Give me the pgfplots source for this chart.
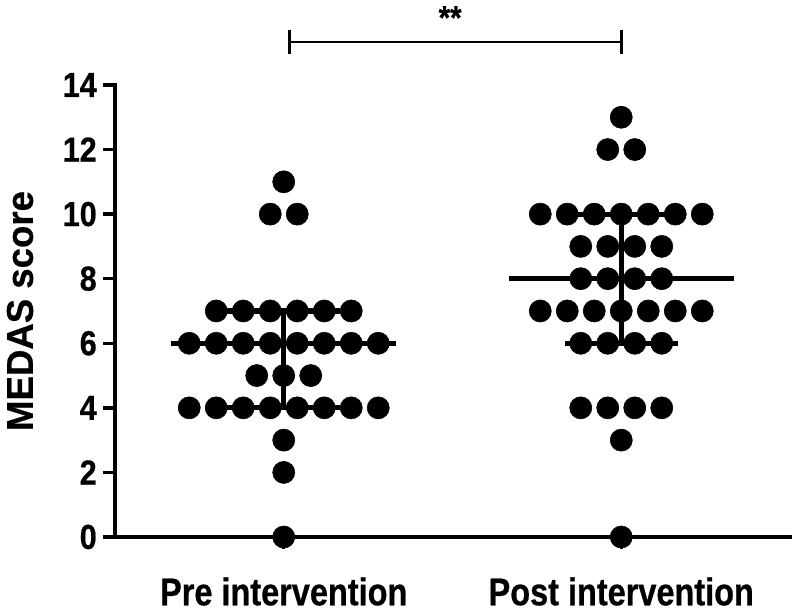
\documentclass[border=0pt]{standalone}
\usepackage{fontspec}
\setmainfont{Liberation Sans}
\newfontfamily\tickfont{Liberation Sans Bold}[FakeStretch=0.88, FakeBold=0.6]
\newfontfamily\catfont{Liberation Sans Bold}[FakeStretch=0.84, FakeBold=0.6]
\newfontfamily\labfont{Liberation Sans Bold}[FakeStretch=0.98, FakeBold=0.6]
\usepackage{pgfplots}
\pgfplotsset{compat=1.18}

% Pre / post MEDAS scores, one row per dot (x = group position + horizontal spread)
\begin{document}
\begin{tikzpicture}
\begin{axis}[
  width=506.25pt, height=339pt, scale only axis,
  xmin=0.5, xmax=2.5, ymin=0, ymax=14,
  axis x line=bottom, axis y line=left,
  axis line style={-, line width=2.6pt, line cap=rect},
  tick align=outside,
  major tick length=9pt,
  tick style={line width=2.6pt, black},
  ytick={0,2,...,14},
  xtick={1,2},
  xticklabels={Pre intervention, Post intervention},
  /pgf/number format/assume math mode=true,
  yticklabel style={font=\tickfont\fontsize{26}{30}\selectfont, inner sep=0pt, xshift=-4.5pt},
  xticklabel style={font=\catfont\fontsize{29}{32}\selectfont, inner sep=0pt, yshift=-21pt},
  ylabel={MEDAS score},
  ylabel style={font=\labfont\fontsize{28}{32}\selectfont, at={(axis description cs:-0.1407,0.5)}, anchor=center},
  clip=false,
]
% medians and interquartile ranges
\addplot[black, line width=3.8pt] coordinates {(0.6667,6) (1.3333,6)};
\addplot[black, line width=3.8pt] coordinates {(0.8333,4) (1.1667,4)};
\addplot[black, line width=3.8pt] coordinates {(0.8333,7) (1.1667,7)};
\addplot[black, line width=3.8pt] coordinates {(1,4) (1,7)};
\addplot[black, line width=3.8pt] coordinates {(1.6667,8) (2.3333,8)};
\addplot[black, line width=3.8pt] coordinates {(1.8333,6) (2.1667,6)};
\addplot[black, line width=3.8pt] coordinates {(1.8333,10) (2.1667,10)};
\addplot[black, line width=3.8pt] coordinates {(2,6) (2,10)};

% pre intervention
\addplot[only marks, mark=*, mark size=8.3pt, black] coordinates {
  (1,11)
  (0.96,10) (1.04,10)
  (0.80,7) (0.88,7) (0.96,7) (1.04,7) (1.12,7) (1.20,7)
  (0.72,6) (0.80,6) (0.88,6) (0.96,6) (1.04,6) (1.12,6) (1.20,6) (1.28,6)
  (0.92,5) (1.00,5) (1.08,5)
  (0.72,4) (0.80,4) (0.88,4) (0.96,4) (1.04,4) (1.12,4) (1.20,4) (1.28,4)
  (1,3)
  (1,2)
  (1,0)
};
% post intervention
\addplot[only marks, mark=*, mark size=8.3pt, black] coordinates {
  (2,13)
  (1.96,12) (2.04,12)
  (1.76,10) (1.84,10) (1.92,10) (2.00,10) (2.08,10) (2.16,10) (2.24,10)
  (1.88,9) (1.96,9) (2.04,9) (2.12,9)
  (1.88,8) (1.96,8) (2.04,8) (2.12,8)
  (1.76,7) (1.84,7) (1.92,7) (2.00,7) (2.08,7) (2.16,7) (2.24,7)
  (1.88,6) (1.96,6) (2.04,6) (2.12,6)
  (1.88,4) (1.96,4) (2.04,4) (2.12,4)
  (2,3)
  (2,0)
};

% significance bracket
\draw[line width=2.2pt] (axis cs:1.016,15.33) -- (axis cs:2.0,15.33);
\draw[line width=2.2pt] (axis cs:1.016,14.96) -- (axis cs:1.016,15.70);
\draw[line width=2.2pt] (axis cs:2.0,14.96) -- (axis cs:2.0,15.70);
\node[font=\tickfont\fontsize{25}{28}\selectfont, anchor=north, inner sep=0pt] at (axis cs:1.493,16.45) {**};

% page extent of the reference
\path (axis cs:0.1593,-2.385) rectangle (axis cs:2.5296,16.632);
\end{axis}
\end{tikzpicture}
\end{document}
